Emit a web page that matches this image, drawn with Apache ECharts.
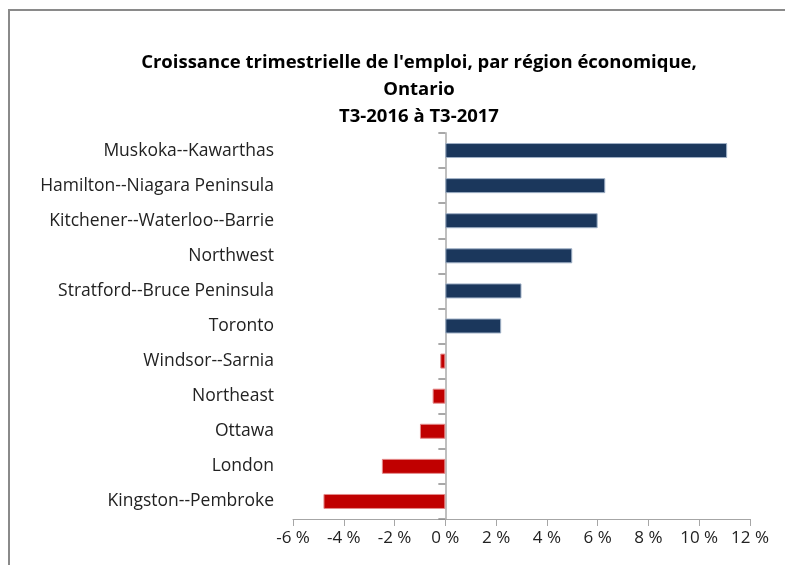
<!DOCTYPE html>
<html>
<head>
<meta charset="utf-8">
<script src="https://cdn.jsdelivr.net/npm/echarts@6/dist/echarts.min.js"></script>
<style>
  html, body { margin: 0; padding: 0; background: #fff; }
  #chart { width: 785px; height: 565px; }
</style>
</head>
<body>
<div id="chart"></div>
<script>
// régions économiques, du haut vers le bas
var regions = ['Muskoka--Kawarthas', 'Hamilton--Niagara Peninsula', 'Kitchener--Waterloo--Barrie',
    'Northwest', 'Stratford--Bruce Peninsula', 'Toronto', 'Windsor--Sarnia', 'Northeast',
    'Ottawa', 'London', 'Kingston--Pembroke'];
// croissance en %
var croissance = [11.1, 6.3, 6.0, 5.0, 3.0, 2.2, -0.2, -0.5, -1.0, -2.5, -4.8];
var titleLines = ["Croissance trimestrielle de l'emploi, par région économique,", 'Ontario', 'T3-2016 à T3-2017'];

var FONT = '"Open Sans", "Noto Sans", sans-serif';

var myChart = echarts.init(document.getElementById('chart'));

var option = {
    animation: false,
    grid: { left: 293, right: 35, top: 133, bottom: 46 },
    graphic: [
        {
            type: 'rect',
            shape: { x: 9, y: 10, width: 800, height: 600 },
            style: { fill: 'none', stroke: '#8a8a8a', lineWidth: 2 }
        },
        {
            type: 'text',
            x: 419, y: 90,
            style: {
                text: titleLines.join('\n'),
                align: 'center', verticalAlign: 'middle',
                font: 'bold 18.5px ' + FONT,
                lineHeight: 27,
                fill: '#000'
            }
        }
    ],
    xAxis: {
        type: 'value',
        min: -6, max: 12, interval: 2,
        axisLine: { show: true, lineStyle: { color: '#a6a6a6', width: 1 } },
        axisTick: { show: true, length: 7, lineStyle: { color: '#a6a6a6' } },
        splitLine: { show: false },
        axisLabel: {
            margin: 11,
            color: '#222',
            fontFamily: FONT,
            fontSize: 17,
            formatter: function (v) { return v + ' %'; }
        }
    },
    yAxis: [
        {
            // étiquettes à gauche
            type: 'category',
            data: regions,
            inverse: true,
            position: 'left',
            axisLine: { show: false, onZero: false },
            axisTick: { show: false },
            axisLabel: { margin: 19, color: '#222', fontFamily: FONT, fontSize: 17.5 }
        },
        {
            // axe vertical à 0 %, graduations vers la gauche
            type: 'category',
            data: regions,
            inverse: true,
            position: 'right',
            axisLine: { show: true, onZero: true, lineStyle: { color: '#bfbfbf', width: 2 } },
            axisTick: { show: true, inside: true, length: 7, lineStyle: { color: '#8c8c8c', width: 1.5 } },
            axisLabel: { show: false }
        }
    ],
    series: [{
        type: 'bar',
        yAxisIndex: 0,
        barWidth: 15,
        data: croissance.map(function (v) {
            return {
                value: v,
                itemStyle: v >= 0
                    ? { color: '#1b375c', borderColor: '#9fb0c6', borderWidth: 1 }
                    : { color: '#c00000', borderColor: '#e48a8a', borderWidth: 1 }
            };
        })
    }]
};

myChart.setOption(option);
</script>
</body>
</html>
